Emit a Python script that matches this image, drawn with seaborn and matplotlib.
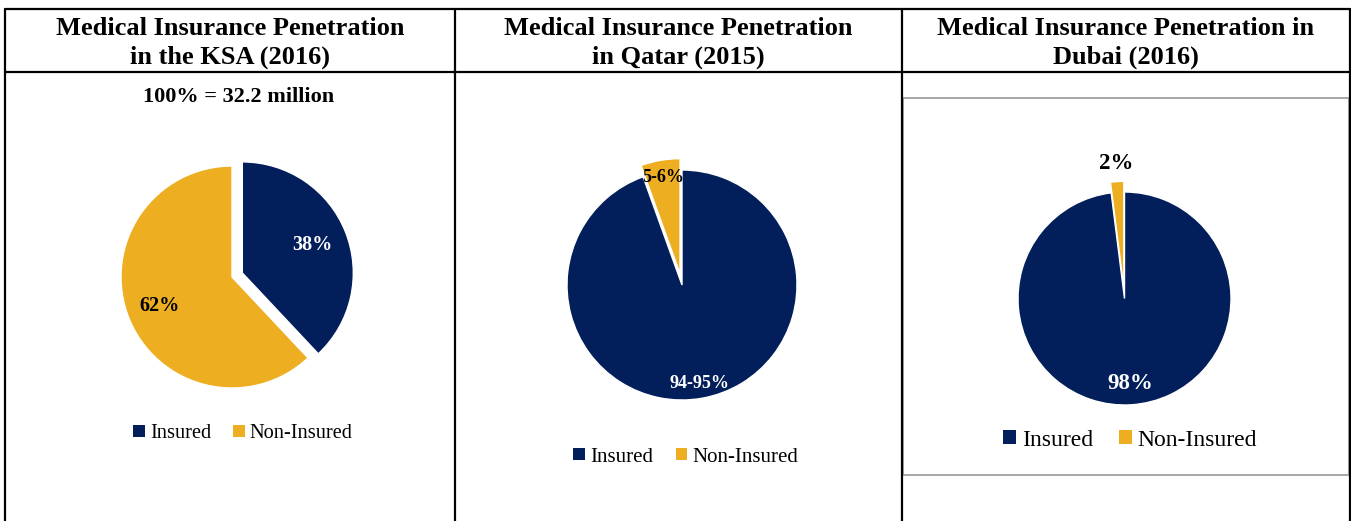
import matplotlib
matplotlib.use("Agg")
from matplotlib import pyplot as plt
from matplotlib.patches import Patch, Rectangle
from matplotlib.lines import Line2D
import seaborn as sns
import numpy as np

# ---- data ----
categories = ["Insured", "Non-Insured"]
titles = ["Medical Insurance Penetration\nin the KSA (2016)",
          "Medical Insurance Penetration\nin Qatar (2015)",
          "Medical Insurance Penetration in\nDubai (2016)"]
ksa_share = [38, 62]
qatar_share = [94.5, 5.5]
dubai_share = [98, 2]
ksa_labels = ["38%", "62%"]
qatar_labels = ["94-95%", "5-6%"]
dubai_labels = ["98%", "2%"]
ksa_note = "100% = 32.2 million"

W, H = 1351, 521
LIM = 1.35

sns.set_theme(style="white")
plt.rcParams["font.family"] = ["Liberation Serif", "DejaVu Serif"]
plt.rcParams["text.color"] = "black"
colors = sns.color_palette(["#021F5B", "#EDAE22"])

fig = plt.figure(figsize=(W / 100, H / 100), dpi=100)
fig.patch.set_facecolor("white")


def fx(x):
    return x / W


def fy(y):
    return 1 - y / H


def pie_panel(values, labels, cx, cy, r, explode, dists, txt_colors, fs):
    ax = fig.add_axes([fx(cx - LIM * r), fy(cy + LIM * r),
                       2 * LIM * r / W, 2 * LIM * r / H])
    wedges, _ = ax.pie(values, colors=colors, startangle=90, counterclock=False,
                       explode=explode,
                       wedgeprops=dict(linewidth=1, edgecolor="white"))
    for w, lab, d, c in zip(wedges, labels, dists, txt_colors):
        th = np.deg2rad((w.theta1 + w.theta2) / 2)
        x0, y0 = w.center
        ax.text(x0 + d * np.cos(th), y0 + d * np.sin(th), lab, color=c,
                fontsize=fs, fontweight="bold", ha="center", va="center")
    ax.set_xlim(-LIM, LIM)
    ax.set_ylim(-LIM, LIM)
    ax.set_aspect("equal")
    ax.axis("off")
    return wedges


def legend_at(x, y, fs):
    handles = [Patch(facecolor=c, edgecolor="none") for c in colors]
    leg = fig.legend(handles, categories, loc="center",
                     bbox_to_anchor=(fx(x), fy(y)), ncol=2, frameon=False,
                     fontsize=fs, handlelength=0.55, handleheight=0.55,
                     handletextpad=0.25, columnspacing=1.1, borderpad=0)
    for t in leg.get_texts():
        t.set_color("black")


# ---- table grid ----
lw = 1.6
for x in [5, 455, 902, 1350]:
    fig.add_artist(Line2D([fx(x), fx(x)], [fy(9), 0], color="black", lw=lw))
for y in [9, 72]:
    fig.add_artist(Line2D([fx(5), fx(1350)], [fy(y), fy(y)], color="black", lw=lw))

# Dubai inner chart frame
fig.add_artist(Rectangle((fx(903), fy(475)), fx(1349) - fx(903), fy(98) - fy(475),
                         transform=fig.transFigure, fill=False,
                         edgecolor="#A0A0A0", lw=1.3))

# ---- headers ----
for title, xc in zip(titles, [230, 678, 1126]):
    fig.text(fx(xc), fy(43), title, ha="center", va="center", fontsize=19,
             fontweight="bold", linespacing=1.28)

fig.text(fx(239), fy(97), ksa_note, ha="center", va="center", fontsize=16,
         fontweight="bold")

# ---- pies ----
pie_panel(ksa_share, ksa_labels, 232, 277, 111, [0.1, 0], [0.68, 0.7],
          ["white", "black"], 14.5)
legend_at(243, 434, 14.7)

pie_panel(qatar_share, qatar_labels, 682, 285, 115, [0, 0.1], [0.87, 0.85],
          ["white", "black"], 13)
legend_at(686, 457, 15)

pie_panel(dubai_share, dubai_labels, 1124.5, 298.5, 106.5, [0, 0.1], [0.8, 1.17],
          ["white", "black"], 16.5)
legend_at(1130, 440, 17)

fig.savefig("out.png", dpi=100)
